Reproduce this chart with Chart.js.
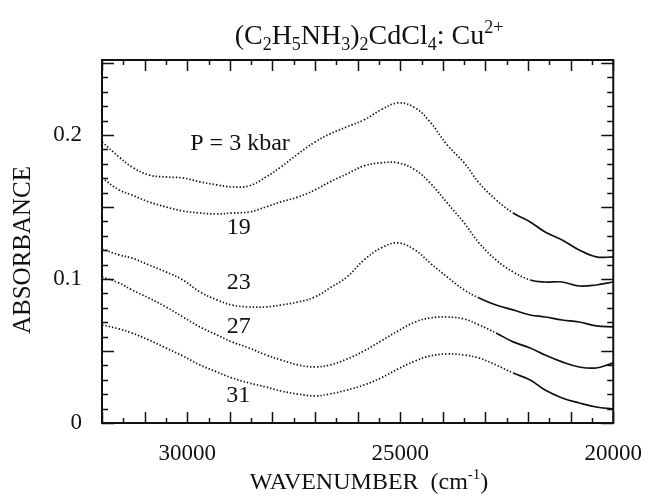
<!DOCTYPE html>
<html>
<head>
<meta charset="utf-8">
<script src="https://cdn.jsdelivr.net/npm/chart.js@4.4.1/dist/chart.umd.min.js"></script>
<style>
  body { margin: 0; background: #fff; }
  #wrap { width: 651px; height: 497px; }
</style>
</head>
<body>
<div id="wrap"><canvas id="spectra" width="651" height="497"></canvas></div>
<script>
// wavenumbers (cm-1), shared by all spectra
const wavenumbers = [32000, 31600, 31300, 30900, 30500, 30100, 29700, 29300, 28950, 28550,
    28150, 27800, 27400, 27000, 26650, 26250, 25850, 25450, 25050, 24650,
    24300, 23900, 23500, 23150, 22750, 22350, 21950, 21600, 21200, 20800, 20400, 20000];

// absorbance at each pressure
const abs3kbar = [0.1951, 0.1847, 0.1778, 0.1722, 0.1708, 0.1701, 0.1674, 0.1653, 0.1639, 0.1646,
    0.1708, 0.1778, 0.1868, 0.1951, 0.2007, 0.2056, 0.2104, 0.2174, 0.2222, 0.2188,
    0.2090, 0.1931, 0.1806, 0.1667, 0.1549, 0.1458, 0.1396, 0.1326, 0.1271, 0.1201, 0.1153, 0.1153];
const abs19kbar = [0.1701, 0.1618, 0.1583, 0.1535, 0.1500, 0.1472, 0.1458, 0.1451, 0.1458, 0.1465,
    0.1500, 0.1535, 0.1569, 0.1618, 0.1674, 0.1729, 0.1785, 0.1806, 0.1806, 0.1757,
    0.1667, 0.1528, 0.1389, 0.1250, 0.1132, 0.1049, 0.0993, 0.0979, 0.0979, 0.0951, 0.0958, 0.0979];
const abs23kbar = [0.1208, 0.1167, 0.1146, 0.1097, 0.1049, 0.0993, 0.0910, 0.0854, 0.0819, 0.0806,
    0.0806, 0.0819, 0.0840, 0.0875, 0.0938, 0.1014, 0.1132, 0.1215, 0.1250, 0.1201,
    0.1111, 0.1014, 0.0924, 0.0868, 0.0819, 0.0785, 0.0750, 0.0736, 0.0715, 0.0701, 0.0674, 0.0667];
const abs27kbar = [0.1014, 0.0972, 0.0924, 0.0868, 0.0806, 0.0736, 0.0667, 0.0611, 0.0563, 0.0521,
    0.0472, 0.0438, 0.0403, 0.0389, 0.0403, 0.0444, 0.0500, 0.0569, 0.0639, 0.0701,
    0.0729, 0.0736, 0.0722, 0.0681, 0.0625, 0.0563, 0.0521, 0.0472, 0.0424, 0.0389, 0.0382, 0.0417];
const abs31kbar = [0.0681, 0.0653, 0.0625, 0.0576, 0.0521, 0.0465, 0.0403, 0.0354, 0.0313, 0.0278,
    0.0250, 0.0222, 0.0201, 0.0188, 0.0201, 0.0229, 0.0264, 0.0313, 0.0375, 0.0431,
    0.0465, 0.0479, 0.0472, 0.0451, 0.0403, 0.0347, 0.0299, 0.0229, 0.0174, 0.0139, 0.0111, 0.0097];

// tick labels
const xTickLabels = [30000, 25000, 20000];
const yTickLabels = [0, 0.1, 0.2];

// curve labels: text and where it sits (data coords)
const curveLabels = [
    { text: 'P = 3 kbar', x: 28760, y: 0.194 },
    { text: '19', x: 28790, y: 0.1354 },
    { text: '23', x: 28790, y: 0.0972 },
    { text: '27', x: 28790, y: 0.0667 },
    { text: '31', x: 28800, y: 0.0188 }
];

const ink = '#111';
const serif = '"Liberation Serif", "DejaVu Serif", serif';

function toPoints(values) {
    return values.map((v, i) => ({ x: wavenumbers[i], y: v }));
}

// dotted above the given wavenumber, solid below it
function spectrum(values, solidBelow) {
    return {
        data: toPoints(values),
        borderColor: ink,
        borderWidth: 1.7,
        pointRadius: 0,
        fill: false,
        tension: 0.4,
        segment: {
            borderDash: ctx => ctx.p0.parsed.x > solidBelow ? [1.4, 2] : []
        }
    };
}

// inward ticks on all four sides plus the frame
const frameTicks = {
    id: 'frameTicks',
    afterDraw(chart) {
        const { ctx, chartArea: a, scales } = chart;
        const xs = scales.x, ys = scales.y;
        ctx.save();
        ctx.strokeStyle = ink;
        ctx.lineWidth = 1.5;
        ctx.beginPath();
        for (let v = 20000; v <= 32000; v += 500) {
            const px = Math.round(xs.getPixelForValue(v)) + 0.5;
            const len = v % 1000 === 0 ? 11 : 5;
            ctx.moveTo(px, a.bottom); ctx.lineTo(px, a.bottom - len);
            ctx.moveTo(px, a.top); ctx.lineTo(px, a.top + len);
        }
        for (let i = 0; i <= 25; i++) {
            const py = Math.round(ys.getPixelForValue(i / 100)) + 0.5;
            const len = i % 5 === 0 ? 12 : 6;
            ctx.moveTo(a.left, py); ctx.lineTo(a.left + len, py);
            ctx.moveTo(a.right, py); ctx.lineTo(a.right - len, py);
        }
        ctx.stroke();
        ctx.lineWidth = 2;
        ctx.strokeRect(a.left, a.top, a.right - a.left, a.bottom - a.top);
        ctx.restore();
    }
};

// draws runs of text with sub/superscripts, centered on cx
function drawRich(ctx, parts, cx, baseY, size) {
    const small = Math.round(size * 0.64);
    let total = 0;
    parts.forEach(p => {
        ctx.font = (p.sub || p.sup ? small : size) + 'px ' + serif;
        p.w = ctx.measureText(p.t).width;
        total += p.w;
    });
    let x = cx - total / 2;
    parts.forEach(p => {
        ctx.font = (p.sub || p.sup ? small : size) + 'px ' + serif;
        let y = baseY;
        if (p.sub) y += size * 0.22;
        if (p.sup) y -= size * 0.4;
        ctx.fillText(p.t, x, y);
        x += p.w;
    });
}

const textLayer = {
    id: 'textLayer',
    afterDraw(chart) {
        const { ctx, scales } = chart;
        ctx.save();
        ctx.fillStyle = ink;
        ctx.textAlign = 'left';
        ctx.textBaseline = 'alphabetic';

        // title
        drawRich(ctx, [
            { t: '(C' }, { t: '2', sub: true }, { t: 'H' }, { t: '5', sub: true },
            { t: 'NH' }, { t: '3', sub: true }, { t: ')' }, { t: '2', sub: true },
            { t: 'CdCl' }, { t: '4', sub: true }, { t: ': Cu' }, { t: '2+', sup: true }
        ], 369, 44, 28);

        // x axis title
        drawRich(ctx, [
            { t: 'WAVENUMBER  (cm' }, { t: '-1', sup: true }, { t: ')' }
        ], 369, 489, 24);

        // y axis title
        ctx.save();
        ctx.translate(30, 250);
        ctx.rotate(-Math.PI / 2);
        ctx.textAlign = 'center';
        ctx.font = '25px ' + serif;
        ctx.fillText('ABSORBANCE', 0, 0);
        ctx.restore();

        // pressure labels
        ctx.textAlign = 'center';
        ctx.textBaseline = 'middle';
        ctx.font = '24px ' + serif;
        curveLabels.forEach(l => {
            ctx.fillText(l.text, scales.x.getPixelForValue(l.x), scales.y.getPixelForValue(l.y));
        });
        ctx.restore();
    }
};

const chart = new Chart(document.getElementById('spectra'), {
    type: 'line',
    data: {
        datasets: [
            spectrum(abs3kbar, 22600),
            spectrum(abs19kbar, 22200),
            spectrum(abs23kbar, 23300),
            spectrum(abs27kbar, 22800),
            spectrum(abs31kbar, 22500)
        ]
    },
    options: {
        responsive: false,
        animation: false,
        layout: { padding: { left: 0, right: 33, top: 60, bottom: 0 } },
        plugins: {
            legend: { display: false },
            title: { display: false },
            tooltip: { enabled: false }
        },
        scales: {
            x: {
                type: 'linear',
                reverse: true,
                min: 20000,
                max: 32000,
                grid: { display: false },
                border: { display: false },
                afterBuildTicks: scale => { scale.ticks = xTickLabels.map(v => ({ value: v })); },
                afterFit: scale => { scale.height = 74; },
                ticks: {
                    autoSkip: false,
                    maxRotation: 0,
                    padding: 9,
                    color: ink,
                    font: { family: serif, size: 23 },
                    callback: v => String(v)
                }
            },
            y: {
                min: 0,
                max: 0.252,
                grid: { display: false },
                border: { display: false },
                afterBuildTicks: scale => { scale.ticks = yTickLabels.map(v => ({ value: v })); },
                afterFit: scale => { scale.width = 102; },
                ticks: {
                    padding: 12,
                    color: ink,
                    font: { family: serif, size: 23 },
                    callback: v => String(v)
                }
            }
        }
    },
    plugins: [frameTicks, textLayer]
});
</script>
</body>
</html>
